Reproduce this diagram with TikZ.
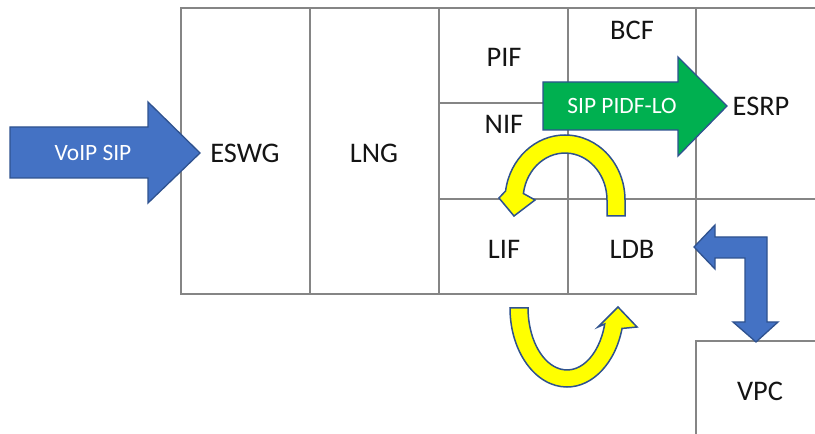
\documentclass[tikz,border=0pt]{standalone}
\usepackage{fontspec}
\setmainfont{Carlito}
\definecolor{gridgray}{HTML}{858585}
\definecolor{arrblue}{HTML}{4472C4}
\definecolor{arredge}{HTML}{2F528F}
\definecolor{arrgreen}{HTML}{00B050}
\definecolor{arryellow}{HTML}{FFFF00}
\definecolor{txt}{HTML}{141414}
\tikzset{
  cell/.style={draw=gridgray, line width=1.1bp},
  lbl/.style={font=\fontsize{28.5}{31}\selectfont, text=txt, inner sep=0pt},
  albl/.style={font=\fontsize{23.5}{26}\selectfont, text=white, inner sep=0pt},
  bluearr/.style={fill=arrblue, draw=arredge, line width=1.3bp, line join=miter},
  greenarr/.style={fill=arrgreen, draw=arredge, line width=1.3bp, line join=miter},
  yellarr/.style={fill=arryellow, draw=arredge, line width=1.5bp, line join=miter},
}
\begin{document}
\begin{tikzpicture}[x=1bp,y=1bp]
\clip (0,0) rectangle (815,-434);
\fill[white] (0,0) rectangle (815,-434);
% grid cells
\draw[cell] (181,-8) rectangle (310,-294);
\draw[cell] (310,-8) rectangle (439,-294);
\draw[cell] (439,-8) rectangle (568,-103);
\draw[cell] (439,-103) rectangle (568,-199);
\draw[cell] (568,-8) rectangle (696,-199);
\draw[cell] (696,-8) rectangle (830,-199);
\draw[cell] (439,-199) rectangle (568,-294);
\draw[cell] (568,-199) rectangle (696,-294);
\draw[cell] (696,-341) rectangle (830,-450);
% labels
\node[lbl] (eswg) at (245,-153) {ESWG};
\node[lbl] (lng) at (374,-153) {LNG};
\node[lbl] (pif) at (504,-57) {PIF};
\node[lbl] (bcf) at (632,-30) {BCF};
\node[lbl] (nif) at (504,-124) {NIF};
\node[lbl] (esrp) at (761,-106) {ESRP};
\node[lbl] (lif) at (504,-249) {LIF};
\node[lbl] (ldb) at (632,-249) {LDB};
\node[lbl] (vpc) at (760,-391) {VPC};
% VoIP SIP arrow
\draw[bluearr] (10,-127) -- (148,-127) -- (148,-102) -- (200,-153) -- (148,-203) -- (148,-178) -- (10,-178) -- cycle;
\node[albl] (voip) at (93,-153) {VoIP SIP};
% SIP PIDF-LO arrow
\draw[greenarr] (543,-82) -- (678,-82) -- (678,-57) -- (727,-106) -- (678,-156) -- (678,-130) -- (543,-130) -- cycle;
\node[albl] (pidf) at (622,-106) {SIP PIDF-LO};
% top yellow curved arrow (NIF -> LIF)
\draw[yellarr] (607,-216) -- (625,-216) -- (625,-200)
  arc[start angle=0, end angle=172, x radius=60bp, y radius=65bp]
  -- (499,-198) -- (514,-216) -- (535,-200) -- (523.4,-193.5)
  arc[start angle=172, end angle=0, x radius=42bp, y radius=47bp] -- cycle;
% bottom yellow curved arrow (LIF -> LDB)
\draw[yellarr] (510,-308)
  arc[start angle=180, end angle=345, x radius=57bp, y radius=79bp]
  -- (637,-327) -- (618,-307) -- (598,-327) -- (604.7,-324.0)
  arc[start angle=345, end angle=180, x radius=39bp, y radius=62bp] -- cycle;
% bent double arrow LDB <-> VPC
\draw[bluearr] (694,-247) -- (715,-225) -- (715,-237) -- (767,-237) -- (767,-322) -- (778,-322) -- (756,-342) -- (733,-322) -- (745,-322) -- (745,-258) -- (715,-258) -- (715,-269) -- cycle;
\end{tikzpicture}
\end{document}
